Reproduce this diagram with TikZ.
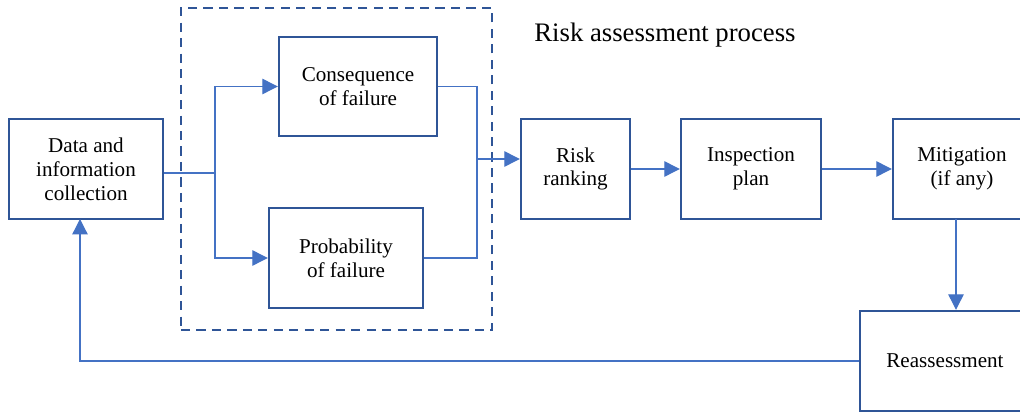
\documentclass[tikz,border=0pt]{standalone}
\usepackage{xcolor}
\usepackage{fontspec}
\setmainfont{Liberation Serif}
\usepackage{tikz}
\usetikzlibrary{arrows.meta}

\definecolor{boxblue}{HTML}{2F5597}
\definecolor{lineblue}{HTML}{4472C4}

\begin{document}
\begin{tikzpicture}[x=0.025cm, y=-0.025cm,
    stage/.style={draw=boxblue, line width=1.7pt, align=center, minimum height=2.5cm,
        inner sep=2pt, font=\fontsize{15}{17}\selectfont},
    wire/.style={draw=lineblue, line width=0.9pt},
    link/.style={wire, -{Triangle[length=11pt, width=11pt]}}]
    \useasboundingbox (0, 0) rectangle (1020, 412);
    \clip (0, 0) rectangle (1020, 412);
    % dashed frame
    \node[draw=boxblue, line width=1.6pt, dash pattern=on 6.5pt off 4.5pt,
        minimum width=7.775cm, minimum height=8.05cm] at (336.5, 169) (frame) {};
    \node[font=\fontsize{19}{22}\selectfont] at (665, 35) (title) {Risk assessment process};
    % stages
    \node[stage, minimum width=3.85cm] at (86, 169) (data) {Data and\\information\\collection};
    \node[stage, minimum width=3.95cm, minimum height=2.475cm] at (358, 86.5) (cons) {Consequence\\of failure};
    \node[stage, minimum width=3.85cm] at (346, 258) (prob) {Probability\\of failure};
    \node[stage, minimum width=2.725cm] at (575.5, 169) (risk) {Risk\\ranking};
    \node[stage, minimum width=3.5cm] at (751, 169) (insp) {Inspection\\plan};
    \node[stage, minimum width=3.45cm] at (962, 169) (miti) {Mitigation\\(if any)};
    \node[stage, minimum width=4.25cm] at (945, 361) (reas) {Reassessment};
    % connectors
    \coordinate (split) at (215, 173);
    \coordinate (join) at (477, 159);
    \coordinate (drop) at (956, 219);
    \coordinate (back) at (80, 219);
    \draw[wire] (data.east |- split) -- (split);
    \draw[link] (split) |- (cons.west);
    \draw[link] (split) |- (prob.west);
    \draw[wire] (cons.east) -| (join);
    \draw[wire] (prob.east) -| (join);
    \draw[link] (join) -- (risk.west |- join);
    \draw[link] (risk) -- (insp);
    \draw[link] (insp) -- (miti);
    \draw[link] (drop) -- (reas.north -| drop);
    \draw[link] (reas.west) -| (back);
\end{tikzpicture}
\end{document}
